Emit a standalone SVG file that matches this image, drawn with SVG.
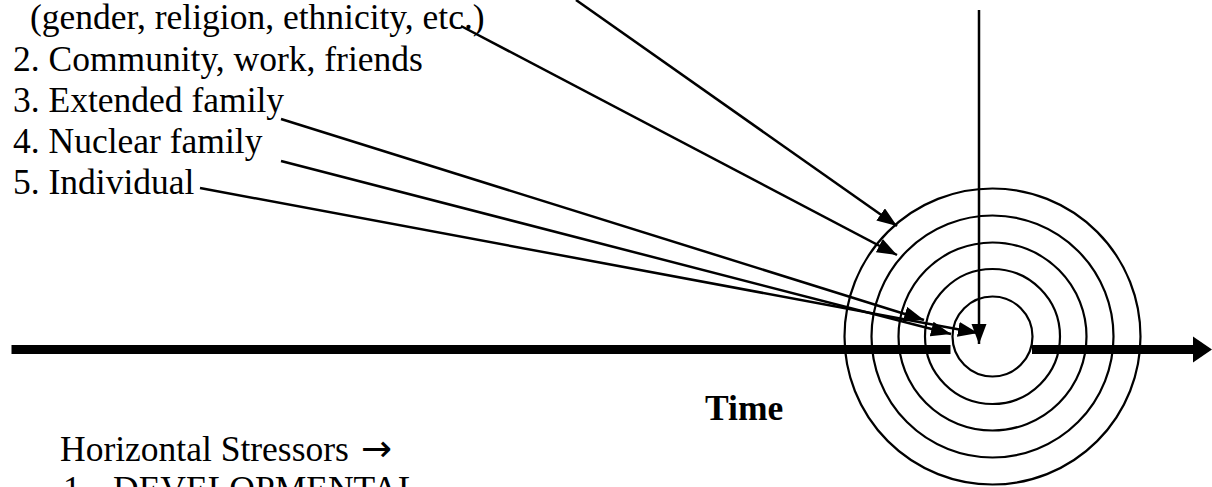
<svg xmlns="http://www.w3.org/2000/svg" width="1212" height="487" viewBox="0 0 1212 487">
<style>
text{font-family:'Liberation Serif','DejaVu Serif',serif;font-size:35.5px;fill:#000}
.b{font-weight:bold}
.ring{fill:none;stroke:#000;stroke-width:2.2}
.ln{stroke:#000;stroke-width:2.5;fill:none}
</style>
<defs>
<marker id="ah" markerUnits="userSpaceOnUse" markerWidth="22" markerHeight="16" refX="20" refY="7.5" orient="auto">
<path d="M0,0 L20,7.5 L0,15 z" fill="#000"/>
</marker>
</defs>
<rect width="1212" height="487" fill="#fff"/>
<g id="labels">
<text x="30" y="29" font-family="Liberation Serif, serif">(gender, religion, ethnicity, etc.)</text>
<text x="13" y="71" font-family="Liberation Serif, serif">2. Community, work, friends</text>
<text x="13" y="112" font-family="Liberation Serif, serif">3. Extended family</text>
<text x="13" y="153" font-family="Liberation Serif, serif">4. Nuclear family</text>
<text x="13" y="194" font-family="Liberation Serif, serif">5. Individual</text>
</g>
<g id="target">
<circle class="ring" cx="992.5" cy="336.5" r="148"/>
<circle class="ring" cx="992.5" cy="336.5" r="121"/>
<circle class="ring" cx="992.5" cy="336.5" r="94"/>
<circle class="ring" cx="992.5" cy="336.5" r="67.5"/>
<circle class="ring" cx="992.5" cy="336.5" r="40"/>
</g>
<g id="timeline">
<rect x="11.5" y="345" width="939" height="9" fill="#000"/>
<rect x="1032" y="345" width="162" height="9" fill="#000"/>
<path d="M1193,336.5 L1212,349.5 L1193,362.5 z" fill="#000"/>
</g>
<g id="time-label">
<text class="b" x="705" y="420" font-family="Liberation Serif, serif">Time</text>
</g>
<g id="horizontal-stressors">
<text x="60" y="461" font-family="Liberation Serif, serif">Horizontal Stressors <tspan x="361" font-family="DejaVu Sans, sans-serif" font-size="37">→</tspan></text>
<text x="63" y="501" font-family="Liberation Serif, serif">1.<tspan x="113">DEVELOPMENTAL</tspan></text>
</g>
<g id="connectors">
<line class="ln" x1="576" y1="0" x2="897" y2="226" marker-end="url(#ah)"/>
<line class="ln" x1="461" y1="26" x2="897" y2="255" marker-end="url(#ah)"/>
<line class="ln" x1="281" y1="119" x2="924" y2="320" marker-end="url(#ah)"/>
<line class="ln" x1="281" y1="161" x2="951" y2="334" marker-end="url(#ah)"/>
<line class="ln" x1="200" y1="188" x2="978" y2="333" marker-end="url(#ah)"/>
<line class="ln" x1="979" y1="10" x2="979" y2="344" marker-end="url(#ah)"/>
</g>
</svg>
